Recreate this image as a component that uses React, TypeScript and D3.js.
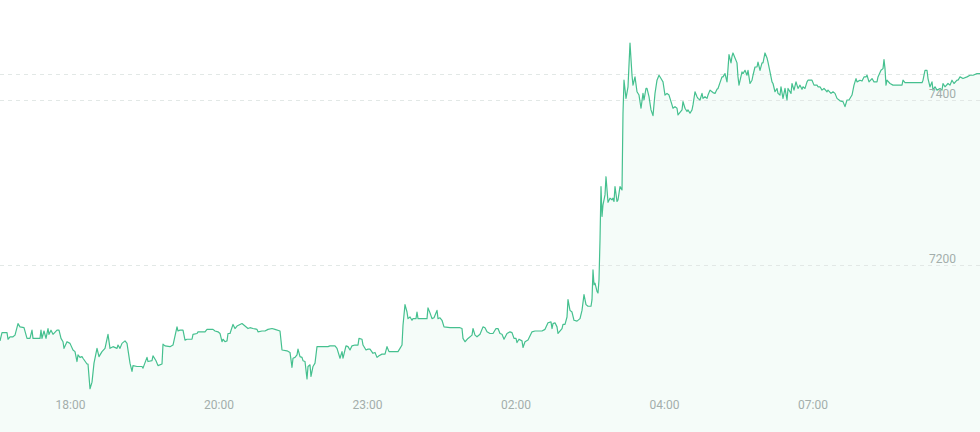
import React from "react";
import * as d3 from "d3";

// time offsets (minutes from chart start) and prices
const times: number[] = [
  0, 2, 7, 8, 10, 13, 15, 18, 20, 24, 27, 30, 32, 33, 40, 41, 42, 44, 46, 48, 49, 51, 53, 57, 59, 61, 63, 64, 67, 70,
  73, 75, 77, 78, 80, 82, 83, 87, 88, 90, 92, 94, 97, 99, 102, 105, 108, 110, 113, 117, 118, 120, 122, 125, 127, 130,
  132, 133, 137, 142, 143, 147, 148, 152, 153, 156, 158, 162, 163, 165,
  170, 173, 177, 178, 180, 183, 185, 187, 192, 193, 197, 198, 205, 207, 213, 215, 218, 220, 222, 223, 225, 227, 228,
  230, 233, 235, 237, 242, 245, 248, 250, 253, 257, 258, 262, 265, 268, 272, 275, 280, 282, 287, 290, 292, 293, 295,
  297, 298, 300, 302, 303, 305, 307, 308, 310, 311, 313, 315, 317, 328,
  330, 335, 337, 340, 342, 343, 346, 348, 350, 352, 355, 358, 359, 362, 363, 366, 368, 370, 373, 375, 377, 379, 382,
  385, 387, 389, 398, 400, 402, 403, 405, 407, 408, 410, 412, 413, 416, 417, 418, 427, 428, 430, 432, 434, 437, 438,
  440, 442, 444, 450, 460, 462, 463, 465, 468, 472, 473, 475, 477, 480, 483, 485, 487, 490, 493, 496, 498,
  500, 502, 504, 507, 510, 512, 514, 516, 517, 519, 522, 523, 525, 528, 532, 535, 542, 545, 548, 551, 552, 553, 555,
  557, 558, 562, 563, 565, 567, 568, 570, 572, 574, 577, 580, 582, 584, 586, 588, 591, 592, 593, 594, 595, 597, 598,
  599, 600, 601, 602, 603, 605, 606, 608, 610, 612, 613, 614, 615, 617, 618, 620, 622, 623, 624, 626, 628, 630, 632,
  633, 635, 637, 639, 641, 643, 644, 646, 647, 649, 651, 653, 655, 657, 659, 661, 663, 665, 667, 669, 672, 673, 675,
  677, 678, 682, 683, 685, 687, 688, 690, 692, 693, 695, 697, 698, 700, 702, 703, 705, 707, 708, 710, 712, 713, 715,
  717, 718, 720, 722, 723, 725, 727, 728, 729, 731, 732, 733, 735, 737, 738, 739, 742, 743, 745, 747, 748, 750, 752,
  753, 755, 757, 758, 760, 762, 763, 765, 767, 768, 770, 772, 773, 775, 777, 778, 780, 781, 783, 785, 787, 788, 791,
  792, 794, 796, 798, 800, 802, 803, 805, 807, 808, 812, 814, 817, 818, 820, 822, 824, 827, 828, 831, 833, 835, 837,
  840, 843, 845, 847, 849, 852, 854, 856, 857, 860, 862, 864, 866, 867, 869, 872, 874, 877, 878, 881, 883, 884, 885,
  886, 887, 890, 893, 902, 903, 905, 922, 923, 925, 927, 928, 930, 932, 933, 935, 937, 940, 942, 943, 945, 948, 950,
  952, 954, 957, 958, 960, 963, 967, 970, 973, 977, 980,
];

const prices: number[] = [
  7108, 7118, 7118, 7110, 7113, 7113, 7115, 7129, 7125, 7124, 7111, 7111, 7121, 7111, 7111, 7121, 7111, 7120, 7111,
  7123, 7116, 7121, 7116, 7121, 7121, 7111, 7107, 7099, 7107, 7105, 7097, 7095, 7083, 7091, 7088, 7089, 7087, 7080,
  7080, 7050, 7058, 7081, 7099, 7089, 7095, 7099, 7116, 7099, 7101, 7099, 7103, 7099, 7105, 7108, 7105, 7081, 7071,
  7078, 7077, 7077, 7075, 7088, 7083, 7084, 7090, 7084, 7078, 7080, 7104, 7102,
  7101, 7103, 7125, 7120, 7121, 7121, 7109, 7110, 7110, 7116, 7117, 7119, 7119, 7122, 7122, 7120, 7119, 7117, 7107,
  7110, 7107, 7108, 7117, 7117, 7128, 7123, 7126, 7129, 7126, 7123, 7124, 7123, 7122, 7119, 7120, 7120, 7122, 7123,
  7122, 7120, 7097, 7096, 7094, 7076, 7087, 7088, 7091, 7098, 7089, 7088, 7084, 7083, 7062, 7077, 7079, 7065, 7077,
  7081, 7101, 7101,
  7102, 7102, 7099, 7087, 7095, 7087, 7102, 7101, 7097, 7102, 7103, 7103, 7111, 7110, 7103, 7097, 7098, 7098, 7093,
  7094, 7088, 7090, 7092, 7092, 7101, 7095, 7095, 7099, 7103, 7127, 7152, 7143, 7135, 7137, 7133, 7135, 7135, 7143,
  7135, 7135, 7148, 7142, 7135, 7136, 7145, 7135, 7136, 7133, 7125, 7124, 7124, 7123, 7111, 7107, 7111, 7115, 7123,
  7115, 7113, 7116, 7125, 7124, 7119, 7117, 7117, 7123, 7123,
  7117, 7116, 7110, 7117, 7119, 7118, 7111, 7111, 7106, 7110, 7108, 7100, 7107, 7109, 7119, 7120, 7120, 7122, 7130,
  7131, 7123, 7129, 7130, 7125, 7117, 7123, 7128, 7128, 7137, 7158, 7145, 7143, 7133, 7132, 7135, 7145, 7164, 7152,
  7150, 7150, 7158, 7194, 7176, 7178, 7168, 7166, 7182, 7230, 7295, 7259, 7273, 7285, 7307, 7276, 7281, 7279, 7281,
  7277, 7295, 7277, 7279, 7295, 7291, 7384, 7424, 7402, 7416, 7469, 7430, 7418, 7428, 7410, 7406, 7390, 7408, 7400,
  7414, 7414, 7404, 7388, 7381, 7408, 7424, 7430, 7426, 7422, 7406, 7408, 7406, 7394, 7390, 7392, 7390, 7382, 7388,
  7398, 7390, 7386, 7388, 7384, 7388, 7394, 7410, 7404, 7402, 7400, 7408, 7402, 7404, 7402, 7406, 7412, 7410, 7409,
  7408, 7413, 7414, 7421, 7428, 7428, 7432, 7422, 7438, 7455, 7445, 7453, 7457, 7451, 7445, 7428, 7418, 7434, 7432,
  7436, 7430, 7436, 7420, 7424, 7430, 7440, 7440, 7446, 7436, 7445, 7445, 7457, 7451, 7446, 7434, 7422, 7420, 7410,
  7414, 7408, 7406, 7416, 7402, 7414, 7400, 7414, 7408, 7420, 7412, 7422, 7414, 7418, 7413, 7416, 7414, 7422, 7424,
  7424, 7418, 7418, 7416, 7416, 7412, 7414, 7410, 7412, 7408, 7410, 7408, 7402, 7399, 7398, 7392, 7400, 7400, 7406,
  7418, 7426, 7422, 7424, 7423, 7428, 7428, 7430, 7422, 7426, 7422, 7422, 7428, 7436, 7438, 7449, 7438, 7418, 7424,
  7420, 7418, 7418, 7424, 7421, 7421, 7424, 7436, 7436, 7426, 7416, 7422, 7412, 7416, 7412, 7414, 7412, 7420, 7416,
  7420, 7418, 7424, 7420, 7424, 7424, 7428, 7426, 7428, 7430, 7430, 7432, 7432,
];

const xTickValues: number[] = [70.5, 219, 367.5, 516, 664.5, 813];
const xTickLabels: string[] = ["18:00", "20:00", "23:00", "02:00", "04:00", "07:00"];
const yTickValues: number[] = [7200, 7400];

const W = 980;
const H = 432;
const LINE = "#45c08f";
const FILL = "rgba(69,192,143,0.055)";
const GRID = "#e2e8e6";
const TEXT = "#a3aeab";

export default function App() {
  const x = d3.scaleLinear().domain([0, 980]).range([0, W]);
  const y = d3.scaleLinear().domain([7200, 7400]).range([265, 100]);
  const data = times.map((t, i) => ({ t, p: prices[i] }));

  const line = d3
    .line<{ t: number; p: number }>()
    .x((d) => x(d.t))
    .y((d) => y(d.p));
  const area = d3
    .area<{ t: number; p: number }>()
    .x((d) => x(d.t))
    .y0(H)
    .y1((d) => y(d.p));

  const last = prices[prices.length - 1];

  return (
    <svg
      width={W}
      height={H}
      style={{ position: "absolute", left: 0, top: 0, display: "block" }}
      fontFamily="Roboto, 'Open Sans', sans-serif"
    >
      <rect x={0} y={0} width={W} height={H} fill="#ffffff" />
      <path d={area(data) || ""} fill={FILL} stroke="none" />
      {yTickValues.map((v) => (
        <line
          key={v}
          x1={0}
          x2={W}
          y1={Math.round(y(v)) + 0.5}
          y2={Math.round(y(v)) + 0.5}
          stroke={GRID}
          strokeDasharray="4 4"
        />
      ))}
      <line
        x1={0}
        x2={W}
        y1={Math.round(y(last)) + 0.5}
        y2={Math.round(y(last)) + 0.5}
        stroke={GRID}
        strokeDasharray="4 4"
      />
      <path d={line(data) || ""} fill="none" stroke={LINE} strokeWidth={1.2} strokeLinejoin="round" />
      {yTickValues.map((v) => (
        <text key={v} x={956} y={y(v) - 2} textAnchor="end" fontSize={12} fill={TEXT}>
          {v}
        </text>
      ))}
      {xTickValues.map((v, i) => (
        <text key={v} x={x(v)} y={409} textAnchor="middle" fontSize={12} fill={TEXT}>
          {xTickLabels[i]}
        </text>
      ))}
    </svg>
  );
}
